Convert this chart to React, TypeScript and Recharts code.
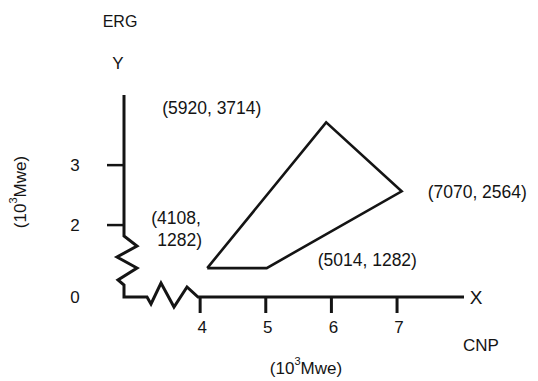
import React from "react";
import { Customized, LabelList, Line, LineChart, XAxis, YAxis } from "recharts";

// corner points of the feasible region, in MWe
const vertexCNP = [4108, 5014, 7070, 5920];
const vertexERG = [1282, 1282, 2564, 3714];
const vertexLabels = [["(4108,", "1282)"], ["(5014, 1282)"], ["(7070, 2564)"], ["(5920, 3714)"]];

const xTicks = [4000, 5000, 6000, 7000];
// axis is broken: 800 is where the floor sits, labelled "0"
const yTicks = [800, 2000, 3000];
const yTickText: Record<number, string> = { 800: "0", 2000: "2", 3000: "3" };

const W = 538;
const H = 381;
const margin = { top: 95, left: 123, right: 74, bottom: 83 };
const plotBottom = 297;
const plotLeft = 124;
const ink = "#141414";
const font = "'Liberation Sans', Arial, sans-serif";

// closed polygon
const data = [...vertexCNP, vertexCNP[0]].map((x, i) => ({
  x,
  y: [...vertexERG, vertexERG[0]][i],
}));

// label offsets from each vertex (styling only)
const labelOffsets = [
  { dx: -56, dy: -50 },
  { dx: 51, dy: -8 },
  { dx: 26, dy: 1 },
  { dx: -164, dy: -14 },
];

function XTick(props: any) {
  const x = props.payload?.coordinate ?? props.x;
  return (
    <g>
      <line x1={x} x2={x} y1={plotBottom} y2={plotBottom + 16} stroke={ink} strokeWidth={3} />
      <text x={x + 2} y={plotBottom + 30} textAnchor="middle" dominantBaseline="central"
        fontSize={17} fill={ink} fontFamily={font}>
        {props.payload.value / 1000}
      </text>
    </g>
  );
}

function YTick(props: any) {
  const y = props.payload?.coordinate ?? props.y;
  const v = props.payload.value;
  return (
    <g>
      {v !== 800 && (
        <line x1={plotLeft - 17} x2={plotLeft} y1={y} y2={y} stroke={ink} strokeWidth={2.5} />
      )}
      <text x={75} y={y} textAnchor="middle" dominantBaseline="central"
        fontSize={17} fill={ink} fontFamily={font}>
        {yTickText[v]}
      </text>
    </g>
  );
}

function VertexLabel(props: any) {
  const { x, y, index } = props;
  if (index >= vertexLabels.length) return null;
  const off = labelOffsets[index];
  return (
    <text x={x + off.dx} y={y + off.dy} fontSize={17.5} fill={ink} fontFamily={font}
      dominantBaseline="central">
      {vertexLabels[index].map((s, k) => (
        <tspan key={k} x={x + off.dx + (k ? 6 : 0)} dy={k ? 22 : 0}>{s}</tspan>
      ))}
    </text>
  );
}

// broken axes with zigzag marks
function BrokenAxes() {
  const l = plotLeft;
  const t = margin.top;
  const b = plotBottom;
  const r = W - margin.right;
  const d = `M${l},${t} L${l},236 L${l + 13},246 L${l - 7},257 L${l + 13},268 L${l - 6},280 L${l},285 L${l},${b}` +
    ` L147,${b} L151,${b + 7} L161,${b - 14} L174,${b + 10} L187,${b - 10} L198,${b} L${r},${b}`;
  return (
    <g>
      <path d={d} fill="none" stroke={ink} strokeWidth={3} strokeLinejoin="miter" />
      <text x={120} y={21} textAnchor="middle" dominantBaseline="central" fontSize={16} fill={ink} fontFamily={font}>ERG</text>
      <text x={118} y={63} textAnchor="middle" dominantBaseline="central" fontSize={17} fill={ink} fontFamily={font}>Y</text>
      <text x={476} y={297} textAnchor="middle" dominantBaseline="central" fontSize={19} fill={ink} fontFamily={font}>X</text>
      <text x={481} y={345} textAnchor="middle" dominantBaseline="central" fontSize={17} fill={ink} fontFamily={font}>CNP</text>
      <text x={306} y={368} textAnchor="middle" dominantBaseline="central" fontSize={17} fill={ink} fontFamily={font}>
        (10<tspan dy={-7} fontSize={11}>3</tspan><tspan dy={7}>Mwe)</tspan>
      </text>
      <text x={20} y={192} textAnchor="middle" dominantBaseline="central" fontSize={17} fill={ink} fontFamily={font}
        transform="rotate(-90 20 192)">
        (10<tspan dy={-7} fontSize={11}>3</tspan><tspan dy={7}>Mwe)</tspan>
      </text>
    </g>
  );
}

export default function App() {
  return (
    <div style={{ position: "absolute", left: 0, top: 0, width: W, height: H, background: "#fff" }}>
      <LineChart width={W} height={H} data={data} margin={margin}>
        <XAxis type="number" dataKey="x" domain={[2840, 8020]} ticks={xTicks} height={1}
          axisLine={false} tickLine={false} tick={<XTick />} allowDataOverflow />
        <YAxis type="number" dataKey="y" domain={[800, 4170]} ticks={yTicks} width={1}
          axisLine={false} tickLine={false} tick={<YTick />} allowDataOverflow />
        <Customized component={<BrokenAxes />} />
        <Line type="linear" dataKey="y" stroke={ink} strokeWidth={2.6} dot={false}
          strokeLinejoin="miter" isAnimationActive={false}>
          <LabelList dataKey="y" content={<VertexLabel />} />
        </Line>
      </LineChart>
    </div>
  );
}
